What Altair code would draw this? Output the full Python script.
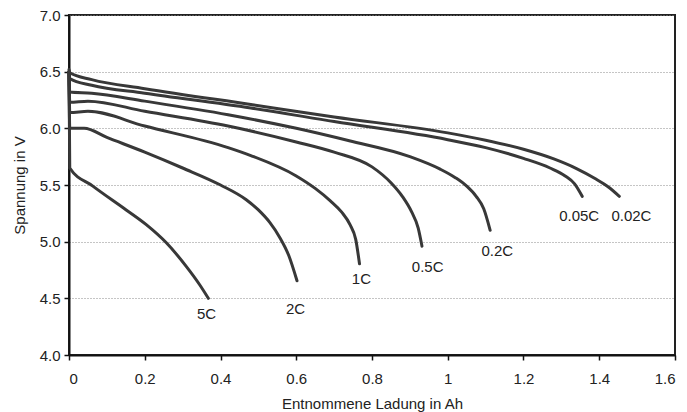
import altair as alt
import pandas as pd

# ---- data ----
series_names = ["0.02C", "0.05C", "0.2C", "0.5C", "1C", "2C", "5C"]

q_002 = [0.0, 0.002, 0.06, 0.2, 0.48, 0.7, 1.0, 1.1, 1.2, 1.28, 1.34, 1.39, 1.425, 1.453]
v_002 = [6.52, 6.49, 6.43, 6.35, 6.21, 6.10, 5.96, 5.895, 5.815, 5.73, 5.645, 5.555, 5.48, 5.40]

q_005 = [0.0, 0.002, 0.06, 0.2, 0.48, 0.7, 1.0, 1.1, 1.2, 1.27, 1.31, 1.335, 1.355]
v_005 = [6.50, 6.44, 6.38, 6.31, 6.18, 6.06, 5.90, 5.83, 5.735, 5.65, 5.58, 5.51, 5.40]

q_02 = [0.0, 0.002, 0.06, 0.2, 0.42, 0.6, 0.74, 0.9, 0.98, 1.02, 1.05, 1.075, 1.095, 1.112]
v_02 = [6.50, 6.32, 6.31, 6.24, 6.12, 6.00, 5.89, 5.75, 5.64, 5.565, 5.49, 5.40, 5.29, 5.10]

q_05 = [0.0, 0.002, 0.05, 0.2, 0.42, 0.6, 0.7, 0.8, 0.85, 0.88, 0.905, 0.922, 0.932]
v_05 = [6.50, 6.23, 6.24, 6.15, 6.02, 5.88, 5.79, 5.66, 5.52, 5.40, 5.26, 5.12, 4.96]

q_1 = [0.0, 0.002, 0.05, 0.2, 0.42, 0.48, 0.6, 0.65, 0.69, 0.72, 0.742, 0.757, 0.767]
v_1 = [6.50, 6.14, 6.15, 6.02, 5.83, 5.76, 5.58, 5.47, 5.36, 5.26, 5.15, 5.02, 4.805]

q_2 = [0.0, 0.002, 0.04, 0.1, 0.2, 0.3, 0.4, 0.468, 0.5, 0.53, 0.556, 0.58, 0.602]
v_2 = [6.50, 6.00, 6.00, 5.92, 5.79, 5.65, 5.50, 5.37, 5.28, 5.17, 5.04, 4.88, 4.655]

q_5 = [0.0, 0.002, 0.063, 0.151, 0.204, 0.257, 0.31, 0.345, 0.368]
v_5 = [6.50, 5.65, 5.49, 5.28, 5.15, 4.99, 4.78, 4.62, 4.50]

# label anchors (data units)
label_q = [1.485, 1.347, 1.131, 0.947, 0.772, 0.598, 0.363]
label_v = [5.23, 5.23, 4.92, 4.78, 4.67, 4.41, 4.363]

x_ticks = [0, 0.2, 0.4, 0.6, 0.8, 1.0, 1.2, 1.4, 1.6]
y_ticks = [4.0, 4.5, 5.0, 5.5, 6.0, 6.5, 7.0]

# ---- build tables ----
all_q = [q_002, q_005, q_02, q_05, q_1, q_2, q_5]
all_v = [v_002, v_005, v_02, v_05, v_1, v_2, v_5]
rows = []
for name, qs, vs in zip(series_names, all_q, all_v):
    for i, (q, v) in enumerate(zip(qs, vs)):
        rows.append({"series": name, "q": q, "v": v, "idx": i})
curves = pd.DataFrame(rows)
labels = pd.DataFrame({"series": series_names, "q": label_q, "v": label_v})

FONT = "Liberation Sans"

xscale = alt.Scale(domain=[0, 1.6], nice=False, zero=False)
yscale = alt.Scale(domain=[4.0, 7.0], nice=False, zero=False)

xaxis = alt.Axis(values=x_ticks, format="~g", title="Entnommene Ladung in Ah",
                 grid=False, tickSize=5, tickWidth=1.5, tickColor="#111",
                 domainColor="#111", domainWidth=2, labelPadding=11,
                 labelFont=FONT, labelFontSize=15, labelColor="#222",
                 titleFont=FONT, titleFontSize=15, titleFontWeight="normal",
                 titleColor="#222", titleBaseline="alphabetic", titleY=53)
yaxis = alt.Axis(values=y_ticks, format=".1f", title="Spannung in V",
                 grid=True, gridDash=[1, 2], gridColor="#8a8a8a", gridWidth=1,
                 tickSize=5, tickWidth=1.5, tickColor="#111",
                 domainColor="#111", domainWidth=2, labelPadding=4,
                 labelFont=FONT, labelFontSize=15, labelColor="#222",
                 titleFont=FONT, titleFontSize=15, titleFontWeight="normal",
                 titleColor="#222", titleAngle=270, titleBaseline="middle",
                 titleX=-50, titleY=170)

lines = alt.Chart(curves).mark_line(
    color="#383838", strokeWidth=3, interpolate="monotone", strokeCap="round"
).encode(
    x=alt.X("q:Q", scale=xscale, axis=xaxis),
    y=alt.Y("v:Q", scale=yscale, axis=yaxis),
    detail="series:N",
    order="idx:Q",
)

texts = alt.Chart(labels).mark_text(
    font=FONT, fontSize=15, color="#222", align="center", baseline="middle"
).encode(
    x=alt.X("q:Q", scale=xscale),
    y=alt.Y("v:Q", scale=yscale),
    text="series:N",
)

chart = alt.layer(lines, texts).properties(
    width=606, height=340,
    autosize=alt.AutoSizeParams(type="none"),
    padding={"left": 69, "top": 15, "right": 12, "bottom": 57},
    background="white",
).configure_view(stroke="#222", strokeWidth=2)

chart.save("out.html", embed_options={"renderer": "svg", "actions": False})
